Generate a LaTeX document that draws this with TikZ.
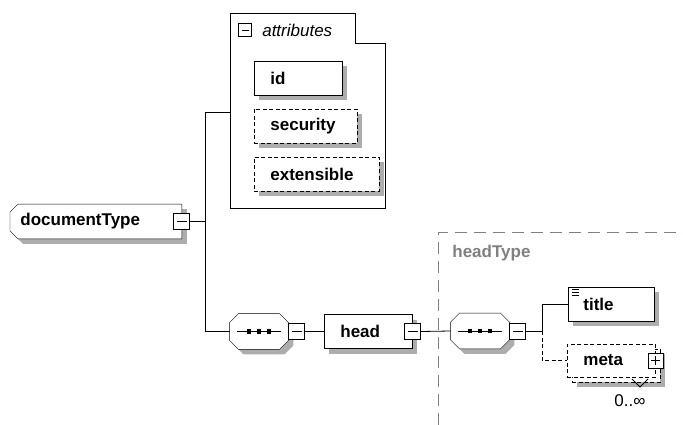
\documentclass[tikz,border=0pt]{standalone}
\usepackage{fontspec}
\setmainfont{Liberation Sans}
\usetikzlibrary{positioning, backgrounds}
\newcommand{\xsdfont}{\fontsize{17}{20}\selectfont}
\definecolor{shadowgray}{rgb}{0.68,0.68,0.68}
\tikzset{
    shadowed/.style={
        preaction={fill=shadowgray, draw=none, solid, transform canvas={shift={(5pt,-5pt)}}}
    },
    box/.style={
        draw, fill=white,
        minimum height=34pt,
        inner xsep=16pt, inner ysep=0pt,
        align=left, anchor=west,
        font=\bfseries\xsdfont
    },
    elem/.style={box, shadowed},
    optional/.style={dash pattern=on 4pt off 2.5pt},
    shadowbox/.style={fill=shadowgray, draw=none},
    outline/.style={draw, fill=white},
    seq/.style={minimum width=58pt, minimum height=35pt, inner sep=0pt},
    minus/.style={
        draw, fill=white, minimum size=16pt, inner sep=0pt,
        path picture={\draw ([xshift=3pt]path picture bounding box.west) -- ([xshift=-3pt]path picture bounding box.east);}
    },
    plus/.style={
        draw, fill=white, minimum size=15pt, inner sep=0pt,
        path picture={\draw ([xshift=3pt]path picture bounding box.west) -- ([xshift=-3pt]path picture bounding box.east);
                      \draw ([yshift=3pt]path picture bounding box.south) -- ([yshift=-3pt]path picture bounding box.north);}
    },
    frame/.style={draw=gray, dash pattern=on 12pt off 7pt}
}
\begin{document}
\begin{tikzpicture}[x=1pt, y=-1pt, line width=0.8pt]
    \useasboundingbox (0,0) rectangle (683,425);

    % documentType
    \node[box, draw=none, fill=none, inner xsep=10pt, text width=151pt] (doc) at (10,221.5) {documentType};
    \node[minus] (docm) at (doc.east) {};

    % attributes
    \coordinate (attrin) at (230,112);
    \node[minus, minimum size=13pt] (attrm) at (245,30) {};
    \node[right=10pt of attrm, inner sep=0pt, font=\itshape\xsdfont] (attrlabel) {attributes};

    \node[elem, text width=56pt] (id) at (254,78) {id};
    \node[elem, optional, text width=71pt] (security) at (254,126) {security};
    \node[elem, optional, text width=93pt] (extensible) at (254,174) {extensible};

    % Sequence 1 and head
    \node[seq] (oneseq) at (259,331.5) {};
    \node[minus, anchor=west] (oneseqm) at (oneseq.east) {};
    \node[elem, text width=56pt] (head) at (324,331.5) {head};
    \node[minus] (headm) at (head.east) {};

    % headType
    \draw[frame] (438,425) |- (683,232.5);
    \node[anchor=west, inner sep=0pt, text=gray, font=\bfseries\xsdfont] (htlabel) at (452,253) {headType};

    % Sequence 2
    \node[seq] (twoseq) at (480,331) {};
    \node[minus, anchor=west] (twoseqm) at (twoseq.east) {};
    \coordinate (branch) at (542,331);

    \foreach \n in {oneseq, twoseq} {
        \draw ([xshift=-22pt]\n.center) -- ([xshift=22pt]\n.center);
        \foreach \d in {-10pt, 0pt, 10pt}
            \fill ([xshift=\d]\n.center) +(-2.2pt,-2.2pt) rectangle +(2.2pt,2.2pt);
    }

    % title
    \node[elem, inner xsep=15pt, text width=56pt] (title) at (568,304) {title};
    \foreach \dy in {3pt, 6pt, 9pt}
        \draw[line width=0.6pt] ([shift={(4pt,-\dy)}]title.north west) -- ++(7pt,0);

    % meta
    \node[elem, optional, text width=56pt, minimum height=33pt] (metaback) at (572,365.5) {};
    \node[box, optional, text width=56pt, minimum height=33pt] (meta) at (567,360.5) {meta};
    \node[plus] (metap) at (meta.east) {};
    \coordinate (occ) at (640,387);
    \draw ([shift={(-8pt,8pt)}]occ) -- (occ) -- ([shift={(8pt,8pt)}]occ);
    \node[inner sep=0pt, font=\xsdfont] (occlabel) at (630,401) {0..∞};

    % Lines
    \draw (docm.east) -- ++(15pt,0) coordinate (trunk);
    \draw (attrin) -| (trunk) |- (oneseq.west);
    \draw (oneseqm.east) -- (head.west);
    \draw (headm.east) -- (twoseq.west);
    \draw (twoseqm.east) -- (branch);
    \draw (branch) |- (title.west);
    \draw[optional] (branch) |- (meta.west);

    % Outlines behind
    \begin{scope}[on background layer]
        \draw[outline] (230,13) -- (355,13) -- (355,43) -- (385,43) -- (385,208) -- (230,208) -- cycle;
        \foreach \s/\st in {5pt/shadowbox, 0pt/outline}
            \path[\st] ([shift={(8pt+\s,-\s)}]doc.north west) -- ([shift={(\s,-\s)}]doc.north east)
                -- ([shift={(\s,-\s)}]doc.south east) -- ([shift={(8pt+\s,-\s)}]doc.south west)
                -- ([shift={(\s,8pt-\s)}]doc.south west) -- ([shift={(\s,-8pt-\s)}]doc.north west) -- cycle;
        \foreach \n in {oneseq, twoseq}
            \foreach \s/\st in {5pt/shadowbox, 0pt/outline}
                \path[\st] ([shift={(9pt+\s,-\s)}]\n.north west) -- ([shift={(-9pt+\s,-\s)}]\n.north east)
                    -- ([shift={(\s,-9pt-\s)}]\n.north east) -- ([shift={(\s,9pt-\s)}]\n.south east)
                    -- ([shift={(-9pt+\s,-\s)}]\n.south east) -- ([shift={(9pt+\s,-\s)}]\n.south west)
                    -- ([shift={(\s,9pt-\s)}]\n.south west) -- ([shift={(\s,-9pt-\s)}]\n.north west) -- cycle;
    \end{scope}

\end{tikzpicture}
\end{document}
